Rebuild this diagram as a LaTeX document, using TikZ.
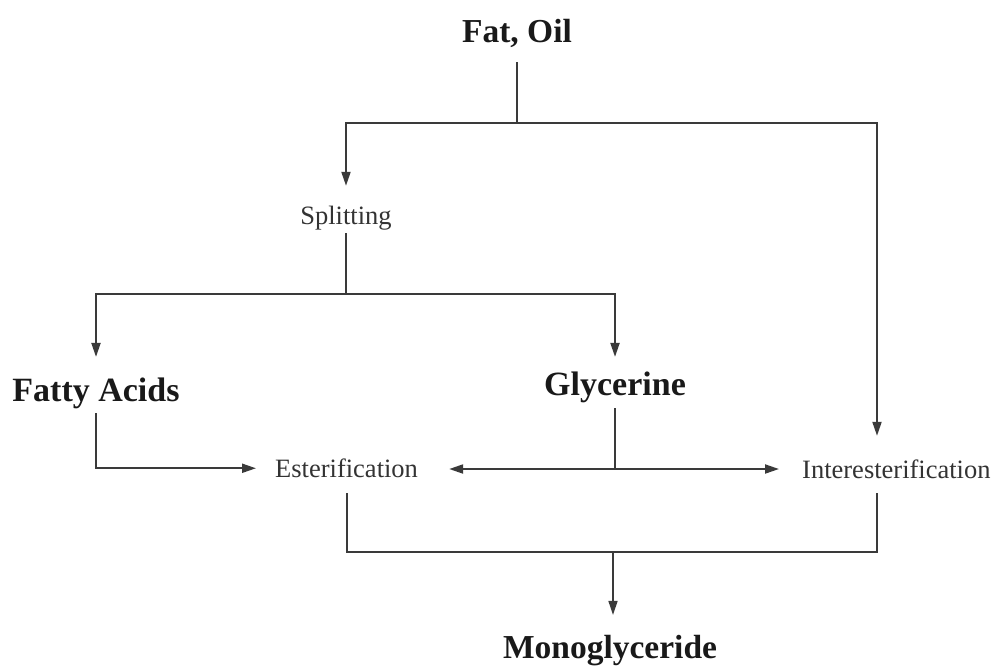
\documentclass[tikz,border=0pt]{standalone}
\usepackage{fontspec}
\setmainfont{Liberation Serif}
\usetikzlibrary{arrows.meta}
\definecolor{linegray}{HTML}{3A3A3A}
\tikzset{
  big/.style={font=\fontsize{34}{40}\selectfont\bfseries, inner sep=0pt, text height=22.4pt, text depth=0pt, text=black!90},
  small/.style={font=\fontsize{26.5}{32}\selectfont, inner sep=0pt, text height=17.5pt, text depth=0pt, text=black!80},
  conn/.style={draw=linegray, line width=2pt},
  arr/.style={conn, -{Triangle[length=14pt, width=9pt]}},
  darr/.style={conn, {Triangle[length=14pt, width=9pt]}-{Triangle[length=14pt, width=9pt]}}
}
\begin{document}
\begin{tikzpicture}[x=1pt, y=-1pt]
\useasboundingbox (0,0) rectangle (992,665);
% nodes
\node[big, anchor=base, font=\fontsize{33.5}{40}\selectfont\bfseries] (fat) at (517,42) {Fat, Oil};
\node[small, anchor=base] (split) at (346,224) {Splitting};
\node[big, anchor=base] (fa) at (96,401) {Fatty Acids};
\node[big, anchor=base] (gly) at (615,395) {Glycerine};
\node[small, anchor=base west] (est) at (275,477) {Esterification};
\node[small, anchor=base west] (inter) at (802,478) {Interesterification};
\node[big, anchor=base, font=\fontsize{33.5}{40}\selectfont\bfseries] (mono) at (610,658) {Monoglyceride};
% junctions
\coordinate (j1) at (517,123);
\coordinate (jl) at (346,123);
\coordinate (jr) at (877,123);
\coordinate (j2) at (346,294);
\coordinate (j2l) at (96,294);
\coordinate (j2r) at (615,294);
\coordinate (j3) at (615,469);
\coordinate (jm) at (613,552);
% connectors
\draw[conn, shorten <=20pt] (fat.south) -- (j1);
\draw[arr, shorten >=20.5pt] (j1) -- (jl) -- (jl |- split.north);
\draw[arr, shorten >=24.5pt] (j1) -- (jr) -- (jr |- inter.north);
\draw[conn, shorten <=9pt] (split.south) -- (j2);
\draw[arr, shorten >=21.5pt] (j2) -- (j2l) -- (j2l |- fa.north);
\draw[arr, shorten >=15.5pt] (j2) -- (j2r) -- (j2r |- gly.north);
\draw[arr, shorten <=12pt, shorten >=19pt] (fa.south) |- (est.west);
\draw[conn, shorten <=13pt] (gly.south) -- (j3);
\draw[darr, shorten <=31pt, shorten >=23pt] (est.east |- j3) -- (inter.west |- j3);
\draw[conn, shorten <=16pt, shorten >=15pt] (est.south) |- (jm) -| (jr |- inter.south);
\draw[arr, line width=1.6pt, shorten >=20.5pt] (jm) -- (jm |- mono.north);
\end{tikzpicture}
\end{document}
